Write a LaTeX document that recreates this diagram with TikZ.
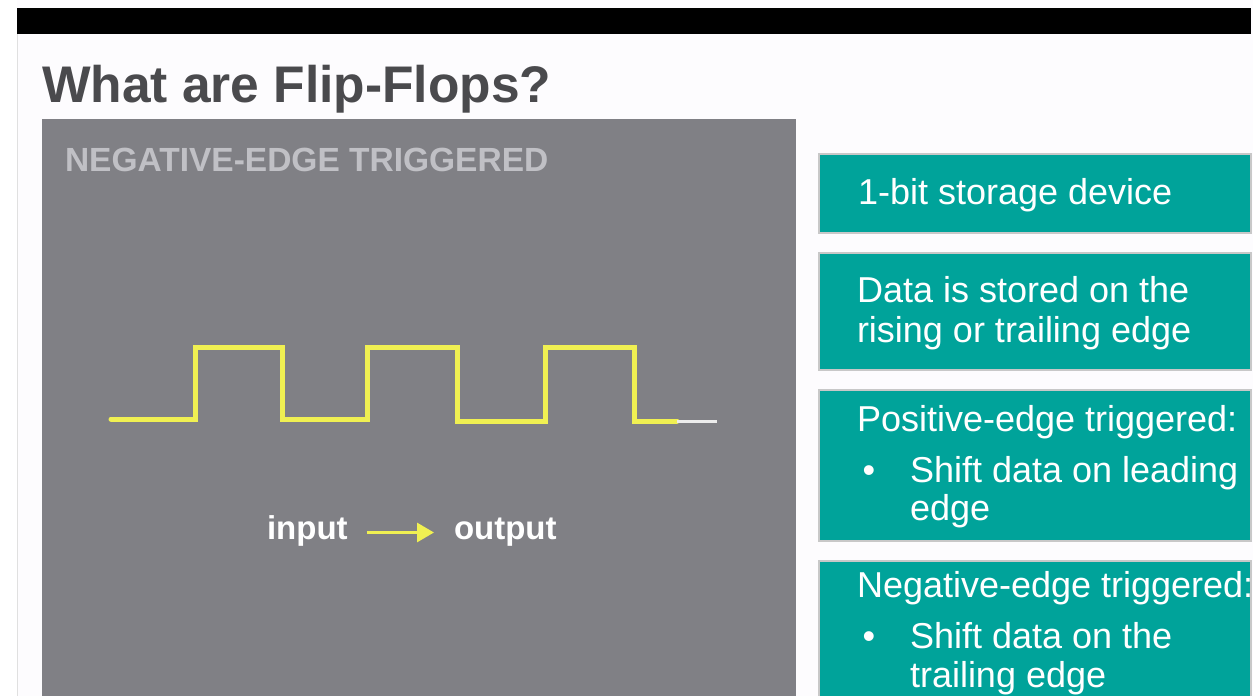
\documentclass[tikz,border=0pt]{standalone}
\usepackage{fontspec}
\setmainfont{Liberation Sans}
\usetikzlibrary{arrows.meta}
\definecolor{slidebg}{RGB}{253,252,254}
\definecolor{titlegray}{RGB}{74,74,77}
\definecolor{panelgray}{RGB}{128,128,133}
\definecolor{paneltext}{RGB}{192,192,197}
\definecolor{tealbox}{RGB}{0,163,154}
\definecolor{boxedge}{RGB}{200,200,200}
\definecolor{wave}{RGB}{240,240,82}
\definecolor{waveend}{RGB}{236,236,236}
\tikzset{
  lbl/.style={anchor=base west, inner sep=0pt, outer sep=0pt},
  boxtext/.style={lbl, text=white, font=\fontsize{36}{40}\selectfont},
  tealrect/.style={anchor=north west, inner sep=0pt, outer sep=0pt, fill=tealbox, draw=boxedge, line width=1.5pt, minimum width=432pt},
  iotext/.style={lbl, text=white, font=\fontsize{33}{40}\selectfont\bfseries, text height=20pt, text depth=7pt},
  arrowstyle/.style={wave, line width=3pt, -{Triangle[length=17pt,width=19pt]}},
}
\begin{document}
\begin{tikzpicture}[x=1pt,y=-1pt]
\useasboundingbox (0,0) rectangle (1253,696);
\fill[slidebg] (0,0) rectangle (1253,696);
\fill[white] (0,0) rectangle (17,696);
\draw[black!12, line width=1pt] (17,34) -- (17,696);
\fill[black] (17,8) rectangle (1251,34);
% title
\node[lbl, text=titlegray, font=\fontsize{51.5}{60}\selectfont\bfseries] (title) at (42,102) {What are Flip-Flops?};
% left panel
\node[anchor=north west, inner sep=0pt, outer sep=0pt, fill=panelgray, minimum width=754pt, minimum height=580pt] (panel) at (42,119) {};
\node[lbl, text=paneltext, font=\fontsize{33.5}{40}\selectfont\bfseries] (neg) at (65,171) {NEGATIVE-EDGE TRIGGERED};
% waveform
\draw[wave, line width=5pt, line cap=round, line join=miter]
  (111,419) -- (195,419) -- (195,347) -- (282,347) -- (282,419) -- (367,419)
  -- (367,347) -- (457,347) -- (457,421) -- (545,421) -- (545,347) -- (634,347)
  -- (634,421) -- (677,421);
\draw[waveend, line width=3pt] (677,421) -- (717,421);
% input -> output
\node[iotext] (in) at (267,539) {input};
\node[iotext] (out) at (454,539) {output};
\draw[arrowstyle, shorten <=19pt, shorten >=20pt] (in.east) -- (out.west);
% right boxes
\node[tealrect, minimum height=79pt] (b1) at (819,154) {};
\node[tealrect, minimum height=117pt] (b2) at (819,253) {};
\node[tealrect, minimum height=151pt] (b3) at (819,390) {};
\node[tealrect, minimum height=150pt] (b4) at (819,561) {};
\node[boxtext] (t1) at (858,204) {1-bit storage device};
\node[boxtext] (t2a) at (857,302) {Data is stored on the};
\node[boxtext] (t2b) at (857,342) {rising or trailing edge};
\node[boxtext] (t3a) at (857,431) {Positive-edge triggered:};
\node[boxtext] (t3b) at (862.5,482) {•};
\node[boxtext] (t3c) at (910,482) {Shift data on leading};
\node[boxtext] (t3d) at (910,520) {edge};
\node[boxtext] (t4a) at (857,597) {Negative-edge triggered:};
\node[boxtext] (t4b) at (862.5,648) {•};
\node[boxtext] (t4c) at (910,648) {Shift data on the};
\node[boxtext] (t4d) at (910,687) {trailing edge};
\end{tikzpicture}
\end{document}
